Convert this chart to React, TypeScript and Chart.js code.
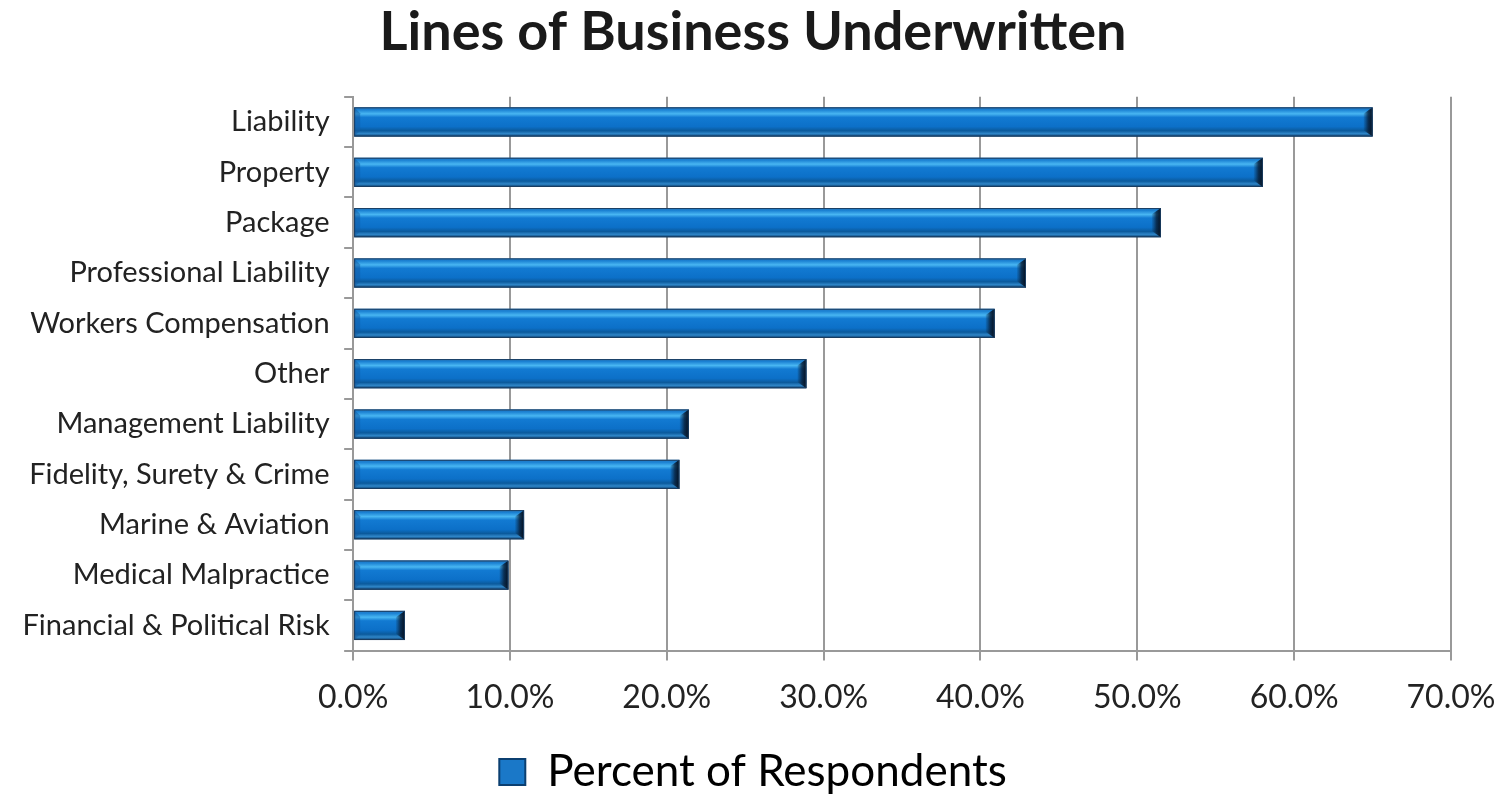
import React, { useEffect, useRef } from "react";
import { Chart, registerables } from "chart.js";

Chart.register(...registerables);

const categories = [
  "Liability",
  "Property",
  "Package",
  "Professional Liability",
  "Workers Compensation",
  "Other",
  "Management Liability",
  "Fidelity, Surety & Crime",
  "Marine & Aviation",
  "Medical Malpractice",
  "Financial & Political Risk",
];
const percentOfRespondents = [65.0, 58.0, 51.5, 42.9, 40.9, 28.9, 21.4, 20.8, 10.9, 9.9, 3.3];
const xTicks = [0, 10, 20, 30, 40, 50, 60, 70];
const seriesName = "Percent of Respondents";
const titleText = "Lines of Business Underwritten";

const FONT = "Lato, 'Open Sans', sans-serif";

const bevelPlugin = {
  id: "bevelBars",
  afterLayout(chart: any) {
    if (chart.legend) {
      chart.legend.top += 8;
      chart.legend.bottom += 8;
    }
  },
  afterDatasetsDraw(chart: any) {
    const ctx = chart.ctx;
    chart.data.datasets.forEach((_ds: any, di: number) => {
      const meta = chart.getDatasetMeta(di);
      meta.data.forEach((bar: any) => {
        const { x, y, base, height } = bar.getProps(["x", "y", "base", "height"], true);
        const left = Math.min(x, base);
        const right = Math.max(x, base);
        const top = y - height / 2;
        const w = right - left;
        ctx.save();
        const g = ctx.createLinearGradient(0, top, 0, top + height);
        g.addColorStop(0, "#2a7cc4");
        g.addColorStop(0.08, "#1a80d2");
        g.addColorStop(0.22, "#48b6f2");
        g.addColorStop(0.34, "#127ad2");
        g.addColorStop(0.66, "#0c70c8");
        g.addColorStop(0.8, "#0b5a9c");
        g.addColorStop(0.9, "#2f86c8");
        g.addColorStop(1, "#0a3c6c");
        ctx.fillStyle = g;
        ctx.fillRect(left, top, w, height);
        // left bevel hint
        const lb = Math.min(6, w / 4);
        ctx.fillStyle = "rgba(20,90,160,0.5)";
        ctx.beginPath();
        ctx.moveTo(left, top);
        ctx.lineTo(left + lb, top + lb);
        ctx.lineTo(left + lb, top + height - lb);
        ctx.lineTo(left, top + height);
        ctx.closePath();
        ctx.fill();
        // right end bevel
        const bw = Math.min(9, w / 3);
        const g2 = ctx.createLinearGradient(right - bw, 0, right, 0);
        g2.addColorStop(0, "rgba(10,40,70,0.1)");
        g2.addColorStop(0.5, "rgba(8,30,55,0.8)");
        g2.addColorStop(1, "rgba(3,12,25,0.98)");
        ctx.fillStyle = g2;
        ctx.beginPath();
        ctx.moveTo(right - bw, top + bw * 0.7);
        ctx.lineTo(right, top);
        ctx.lineTo(right, top + height);
        ctx.lineTo(right - bw, top + height - bw * 0.7);
        ctx.closePath();
        ctx.fill();
        // border
        ctx.strokeStyle = "#1b3d60";
        ctx.lineWidth = 1;
        ctx.strokeRect(left + 0.5, top + 0.5, w - 1, height - 1);
        ctx.restore();
      });
    });
  },
};

export default function App() {
  const ref = useRef<HTMLCanvasElement>(null);
  useEffect(() => {
    if (!ref.current) return;
    const chart = new Chart(ref.current, {
      type: "bar",
      data: {
        labels: categories,
        datasets: [
          {
            label: seriesName,
            data: percentOfRespondents,
            backgroundColor: "#1a78c8",
            borderColor: "#1b3d60",
            borderWidth: 1,
            barPercentage: 0.58,
            categoryPercentage: 1,
          },
        ],
      },
      options: {
        indexAxis: "y",
        animation: false,
        responsive: true,
        maintainAspectRatio: false,
        layout: { padding: { left: 0, right: 0, top: 0, bottom: 0 } },
        plugins: {
          title: {
            display: true,
            text: titleText,
            color: "#1a1a1a",
            font: { family: FONT, size: 54, weight: "bold" },
            padding: { top: 0, bottom: 32 },
          },
          legend: {
            display: true,
            position: "bottom",
            labels: {
              color: "#222",
              font: { family: FONT, size: 44 },
              boxWidth: 26,
              boxHeight: 26,
              padding: 25,
              generateLabels: () => [
                {
                  text: seriesName,
                  fillStyle: "#1a78c8",
                  strokeStyle: "#0b3f70",
                  lineWidth: 2,
                  hidden: false,
                  datasetIndex: 0,
                },
              ],
            },
          },
          tooltip: { enabled: false },
        },
        scales: {
          x: {
            min: 0,
            max: 70,
            afterBuildTicks: (axis: any) => {
              axis.ticks = xTicks.map((v) => ({ value: v }));
            },
            afterFit: (axis: any) => {
              axis.paddingRight = 47;
              axis.height = axis.height - 18;
            },
            ticks: {
              color: "#222",
              font: { family: FONT, size: 32 },
              padding: 18,
              callback: (v: any) => Number(v).toFixed(1) + "%",
            },
            grid: { color: "#999", lineWidth: 2, tickLength: 10 },
            border: { display: true, color: "#999", width: 2 },
          },
          y: {
            ticks: {
              color: "#222",
              font: { family: FONT, size: 29 },
              padding: 14.5,
            },
            grid: {
              display: true,
              drawOnChartArea: false,
              drawTicks: true,
              tickLength: 9,
              color: "#999",
              lineWidth: 2,
            },
            border: { display: true, color: "#999", width: 2 },
          },
        },
      },
      plugins: [bevelPlugin],
    });
    return () => chart.destroy();
  }, []);
  return (
    <div style={{ width: 1490, height: 796, marginTop: -8, position: "relative" }}>
      <canvas ref={ref} />
    </div>
  );
}
